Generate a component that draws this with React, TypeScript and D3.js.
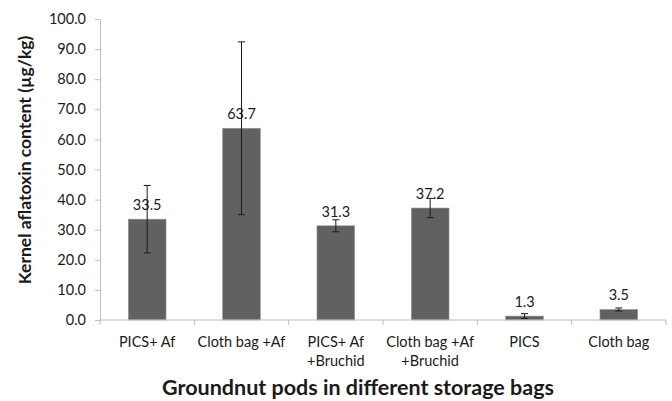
import React, { useEffect, useRef } from 'react';
import * as d3 from 'd3';

const categories = [
  ['PICS+ Af'],
  ['Cloth bag +Af'],
  ['PICS+ Af', '+Bruchid'],
  ['Cloth bag +Af', '+Bruchid'],
  ['PICS'],
  ['Cloth bag'],
];
const values = [33.5, 63.7, 31.3, 37.2, 1.3, 3.5];
const errors = [11.2, 28.7, 2.0, 3.2, 0.8, 0.5];
const yTicks = [0, 10, 20, 30, 40, 50, 60, 70, 80, 90, 100];

const FONT = 'Lato, "Open Sans", "Noto Sans", sans-serif';

function App(): JSX.Element {
  const svgRef = useRef<SVGSVGElement>(null);

  useEffect(() => {
    const svg = d3.select(svgRef.current);
    svg.selectAll('*').remove();

    const left = 100, right = 666, top = 19, bottom = 320;

    const x = d3.scaleBand<number>()
      .domain(values.map((_, i) => i))
      .range([left, right])
      .paddingInner(0.6)
      .paddingOuter(0.3);
    const band = d3.scaleBand<number>()
      .domain(values.map((_, i) => i))
      .range([left, right]);
    const y = d3.scaleLinear().domain([0, 100]).range([bottom, top]);

    // y axis
    const yAxis = svg.append('g')
      .attr('transform', `translate(${left},0)`)
      .call(d3.axisLeft(y).tickValues(yTicks).tickSize(5).tickSizeOuter(0).tickFormat(d => (d as number).toFixed(1)));
    yAxis.select('.domain').attr('stroke', '#bfbfbf');
    yAxis.selectAll('.tick line').attr('stroke', '#bfbfbf');
    yAxis.selectAll('.tick text')
      .attr('font-family', FONT)
      .attr('font-size', 14.5)
      .attr('fill', '#1a1a1a')
      .attr('x', -14);

    // bars
    svg.append('g').selectAll('rect')
      .data(values)
      .join('rect')
      .attr('x', (_, i) => x(i)!)
      .attr('y', d => y(d))
      .attr('width', x.bandwidth())
      .attr('height', d => y(0) - y(d))
      .attr('fill', '#616161')
      .attr('stroke', '#9a9a9a')
      .attr('stroke-width', 0.6);

    // x axis
    svg.append('line')
      .attr('x1', left).attr('x2', right)
      .attr('y1', bottom).attr('y2', bottom)
      .attr('stroke', '#bfbfbf');
    const bounds = [...values.map((_, i) => band(i)!), right];
    svg.append('g').selectAll('line')
      .data(bounds)
      .join('line')
      .attr('x1', d => d).attr('x2', d => d)
      .attr('y1', bottom).attr('y2', bottom + 5)
      .attr('stroke', '#bfbfbf');

    // error bars
    const eb = svg.append('g').attr('stroke', '#1a1a1a').attr('stroke-width', 1);
    values.forEach((v, i) => {
      const cx = x(i)! + x.bandwidth() / 2;
      const hi = y(v + errors[i]);
      const lo = y(v - errors[i]);
      eb.append('line').attr('x1', cx).attr('x2', cx).attr('y1', hi).attr('y2', lo);
      eb.append('line').attr('x1', cx - 3.5).attr('x2', cx + 3.5).attr('y1', hi).attr('y2', hi);
      eb.append('line').attr('x1', cx - 3.5).attr('x2', cx + 3.5).attr('y1', lo).attr('y2', lo);
    });

    // value labels
    svg.append('g').selectAll('text')
      .data(values)
      .join('text')
      .attr('x', (_, i) => x(i)! + x.bandwidth() / 2)
      .attr('y', d => y(d) - 9)
      .attr('text-anchor', 'middle')
      .attr('font-family', FONT)
      .attr('font-size', 14.5)
      .attr('fill', '#1a1a1a')
      .text(d => d.toFixed(1));

    // category labels
    svg.append('g').selectAll('text')
      .data(categories)
      .join('text')
      .attr('text-anchor', 'middle')
      .attr('font-family', FONT)
      .attr('font-size', 14.5)
      .attr('fill', '#1a1a1a')
      .each(function (lines, i) {
        const cx = band(i)! + band.bandwidth() / 2;
        d3.select(this).selectAll('tspan')
          .data(lines)
          .join('tspan')
          .attr('x', cx)
          .attr('y', (_, j) => 347 + j * 19)
          .text(d => d);
      });

    // axis titles
    svg.append('text')
      .attr('x', 358)
      .attr('y', 395)
      .attr('text-anchor', 'middle')
      .attr('font-family', FONT)
      .attr('font-size', 21.5)
      .attr('font-weight', 'bold')
      .attr('fill', '#1a1a1a')
      .text('Groundnut pods in different storage bags');

    svg.append('text')
      .attr('transform', `translate(31,160) rotate(-90)`)
      .attr('text-anchor', 'middle')
      .attr('font-family', FONT)
      .attr('font-size', 17.5)
      .attr('font-weight', 'bold')
      .attr('fill', '#1a1a1a')
      .text('Kernel aflatoxin content (µg/kg)');
  }, []);

  return (
    <svg
      ref={svgRef}
      width={672}
      height={401}
      style={{ position: 'absolute', left: 0, top: 0, background: '#fff' }}
    />
  );
}

export default App;
